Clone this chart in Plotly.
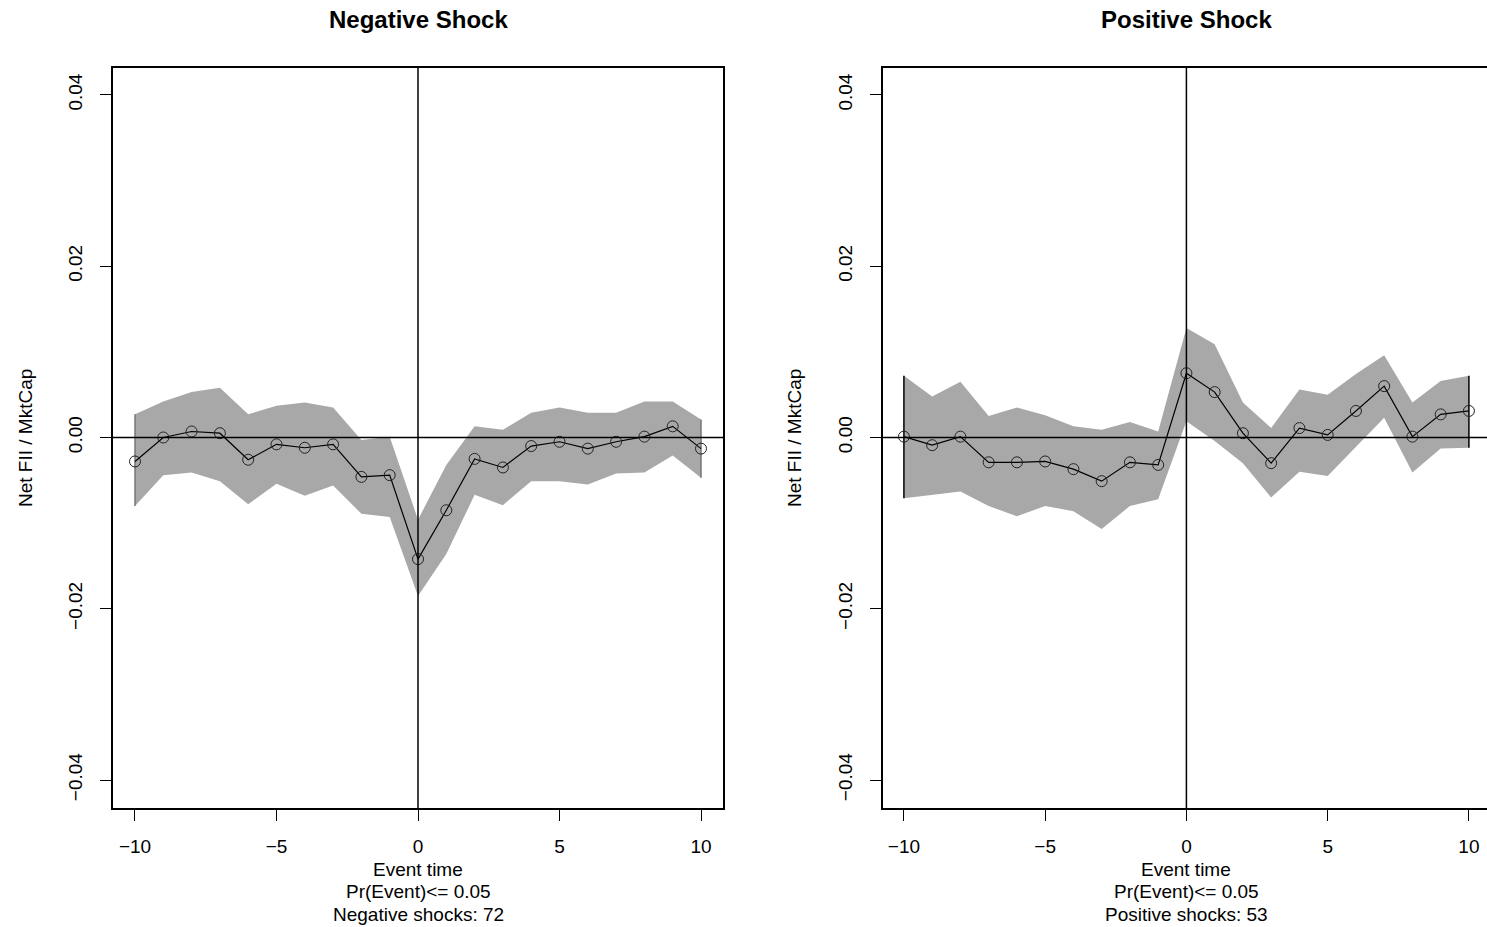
import plotly.graph_objects as go

event_time = list(range(-10, 11))

# Negative shock panel
neg_mean = [-0.0028, 0.0000, 0.0007, 0.0005, -0.0026, -0.0008, -0.0012, -0.0008, -0.0046, -0.0044,
            -0.0142, -0.0085, -0.0025, -0.0035, -0.0010, -0.0005, -0.0013, -0.0005, 0.0001, 0.0013, -0.0013]
neg_upper = [0.0027, 0.0042, 0.0053, 0.0058, 0.0027, 0.0037, 0.0041, 0.0035, -0.0003, 0.0001,
             -0.0096, -0.0032, 0.0013, 0.0009, 0.0029, 0.0035, 0.0029, 0.0029, 0.0042, 0.0042, 0.0021]
neg_lower = [-0.0080, -0.0044, -0.0041, -0.0051, -0.0078, -0.0054, -0.0068, -0.0056, -0.0089, -0.0093,
             -0.0185, -0.0136, -0.0067, -0.0079, -0.0051, -0.0051, -0.0055, -0.0042, -0.0041, -0.0021, -0.0047]

# Positive shock panel
pos_mean = [0.0001, -0.0009, 0.0001, -0.0029, -0.0029, -0.0028, -0.0037, -0.0051, -0.0029, -0.0032,
            0.0075, 0.0053, 0.0005, -0.0030, 0.0011, 0.0003, 0.0031, 0.0060, 0.0001, 0.0027, 0.0031]
pos_upper = [0.0072, 0.0048, 0.0065, 0.0025, 0.0035, 0.0026, 0.0013, 0.0009, 0.0018, 0.0007,
             0.0128, 0.0109, 0.0041, 0.0011, 0.0056, 0.0050, 0.0074, 0.0096, 0.0041, 0.0066, 0.0072]
pos_lower = [-0.0071, -0.0067, -0.0063, -0.0080, -0.0092, -0.0080, -0.0086, -0.0107, -0.0080, -0.0072,
             0.0019, -0.0004, -0.0030, -0.0070, -0.0040, -0.0045, -0.0011, 0.0023, -0.0041, -0.0013, -0.0012]

titles = ["Negative Shock", "Positive Shock"]
footers = [["Event time", "Pr(Event)<= 0.05", "Negative shocks: 72"],
           ["Event time", "Pr(Event)<= 0.05", "Positive shocks: 53"]]
x_ticks = [-10, -5, 0, 5, 10]
y_ticks = [-0.04, -0.02, 0.0, 0.02, 0.04]

W, H = 1487, 927
FONT = "Liberation Sans, Arial, Helvetica, sans-serif"
BAND = "#a8a8a8"
FS = 19

panels = [
    dict(mean=neg_mean, up=neg_upper, lo=neg_lower, xd=[113 / W, 723 / W], xr=[-10.777, 10.777],
         edge="#777777", mirror_y=True),
    dict(mean=pos_mean, up=pos_upper, lo=pos_lower, xd=[883 / W, 1.0], xr=[-10.74, 10.64],
         edge="#000000", mirror_y=False),
]
ydom = [(H - 808) / H, (H - 68) / H]
yr = [-0.04327, 0.04315]

fig = go.Figure()
layout = dict(width=W, height=H, margin=dict(l=0, r=0, t=0, b=0),
              paper_bgcolor="white", plot_bgcolor="white", showlegend=False,
              font=dict(family=FONT, color="black", size=FS))
shapes = []
annotations = []

for i, p in enumerate(panels):
    xa = "x" if i == 0 else "x2"
    ya = "y" if i == 0 else "y2"
    xs = event_time + event_time[::-1]
    ys = p["up"] + p["lo"][::-1]
    fig.add_trace(go.Scatter(x=xs, y=ys, xaxis=xa, yaxis=ya, fill="toself", fillcolor=BAND,
                             line=dict(width=0), mode="lines", hoverinfo="skip"))
    # band end edges
    for k in (0, -1):
        fig.add_trace(go.Scatter(x=[event_time[k], event_time[k]], y=[p["lo"][k], p["up"][k]],
                                 xaxis=xa, yaxis=ya, mode="lines",
                                 line=dict(color=p["edge"], width=1.5), hoverinfo="skip"))
    fig.add_trace(go.Scatter(x=event_time, y=p["mean"], xaxis=xa, yaxis=ya, mode="lines+markers",
                             line=dict(color="black", width=1.2),
                             marker=dict(symbol="circle-open", size=11, color="#222222",
                                         line=dict(width=1))))
    axn = "" if i == 0 else "2"
    layout["xaxis" + axn] = dict(domain=p["xd"], range=p["xr"], anchor=ya, tickvals=x_ticks,
                                 ticktext=[str(v).replace("-", "\u2212") for v in x_ticks],
                                 ticks="outside", ticklen=11, tickwidth=1.2, tickcolor="black",
                                 showline=True, linecolor="black", linewidth=1.5, mirror=True,
                                 showgrid=False, zeroline=False, ticklabelstandoff=9,
                                 tickfont=dict(size=FS, family=FONT))
    layout["yaxis" + axn] = dict(domain=ydom, range=yr, anchor=xa, tickvals=y_ticks,
                                 tickformat=".2f", tickangle=-90,
                                 ticks="outside", ticklen=11, tickwidth=1.2, tickcolor="black",
                                 showline=True, linecolor="black", linewidth=1.5,
                                 mirror=p["mirror_y"],
                                 showgrid=False, zeroline=False, ticklabelstandoff=11,
                                 tickfont=dict(size=FS, family=FONT))
    # reference lines at 0
    shapes.append(dict(type="line", xref=xa + " domain", yref=ya, x0=0, x1=1, y0=0, y1=0,
                       line=dict(color="black", width=1.5), layer="above"))
    shapes.append(dict(type="line", xref=xa, yref=ya + " domain", x0=0, x1=0, y0=0, y1=1,
                       line=dict(color="black", width=1.5), layer="above"))
    # title
    annotations.append(dict(text="<b>" + titles[i] + "</b>", xref=xa, yref="paper", x=0,
                            y=(H - 19) / H, yanchor="middle", showarrow=False,
                            font=dict(size=24, family=FONT)))
    # footer lines
    for j, t in enumerate(footers[i]):
        annotations.append(dict(text=t, xref=xa, yref="paper", x=0, y=(H - (869 + 22.5 * j)) / H,
                                yanchor="middle", showarrow=False, font=dict(size=FS, family=FONT)))
    # y axis title
    annotations.append(dict(text="Net FII / MktCap", xref="paper", yref=ya + " domain",
                            x=(25 if i == 0 else 794) / W, y=0.5, xanchor="center", yanchor="middle",
                            textangle=-90, showarrow=False, font=dict(size=FS, family=FONT)))

layout["shapes"] = shapes
layout["annotations"] = annotations
fig.update_layout(**layout)
fig.write_html("out.html")
